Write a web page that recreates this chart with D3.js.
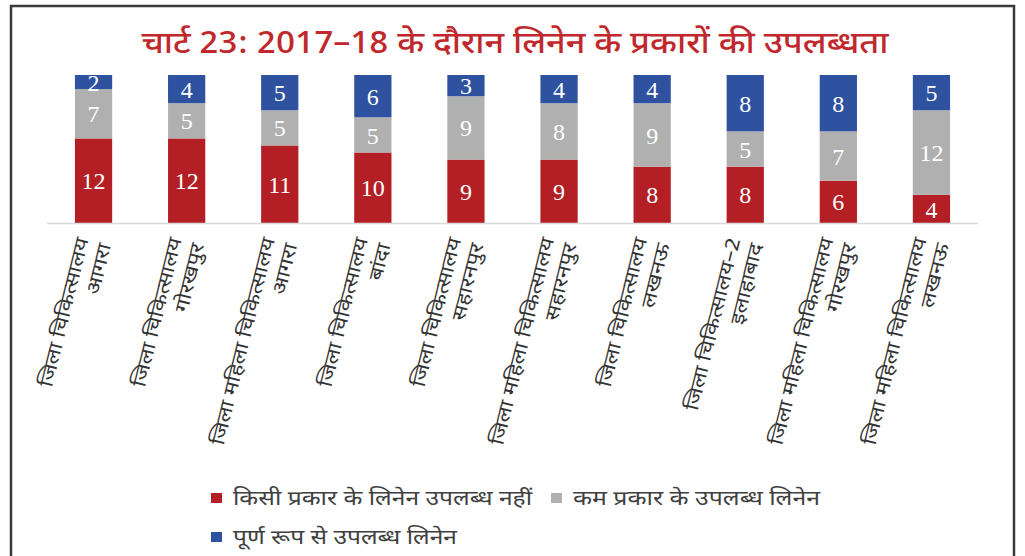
<!DOCTYPE html>
<html>
<head>
<meta charset="utf-8">
<script src="https://cdn.jsdelivr.net/npm/d3@7"></script>
<style>
  body { margin: 0; background: #fff; }
  svg { display: block; }
  .hi { font-family: "Noto Sans Devanagari", "Lohit Devanagari", "Noto Sans", sans-serif; }
</style>
</head>
<body>
<div id="chart"></div>
<script>
// Data
var title = "चार्ट 23: 2017–18 के दौरान लिनेन के प्रकारों की उपलब्धता";
var categories = [
	["जिला चिकित्सालय", "आगरा"],
	["जिला चिकित्सालय", "गोरखपुर"],
	["जिला महिला चिकित्सालय", "आगरा"],
	["जिला चिकित्सालय", "बांदा"],
	["जिला चिकित्सालय", "सहारनपुर"],
	["जिला महिला चिकित्सालय", "सहारनपुर"],
	["जिला चिकित्सालय", "लखनऊ"],
	["जिला चिकित्सालय–2", "इलाहाबाद"],
	["जिला महिला चिकित्सालय", "गोरखपुर"],
	["जिला महिला चिकित्सालय", "लखनऊ"]
];
var notAvailable = [12, 12, 11, 10, 9, 9, 8, 8, 6, 4];
var fewTypes = [7, 5, 5, 5, 9, 8, 9, 5, 7, 12];
var fullyAvailable = [2, 4, 5, 6, 3, 4, 4, 8, 8, 5];
var seriesNames = ["किसी प्रकार के लिनेन उपलब्ध नहीं", "कम प्रकार के उपलब्ध लिनेन", "पूर्ण रूप से उपलब्ध लिनेन"];
var colors = ["#b31f24", "#b0b0b0", "#2f52a0"];

var width = 1025, height = 556;

var svg = d3.select("#chart").append("svg")
	.attr("width", width)
	.attr("height", height);

// Outer frame (bottom edge runs off the picture)
svg.append("rect")
	.attr("x", 11).attr("y", 6)
	.attr("width", 1003).attr("height", 600)
	.attr("fill", "none")
	.attr("stroke", "#3a3a3a")
	.attr("stroke-width", 2.5);

// Title
svg.append("text")
	.attr("class", "hi")
	.attr("x", 515).attr("y", 53)
	.attr("text-anchor", "middle")
	.attr("fill", "#c0282d")
	.attr("font-size", 31)
	.attr("font-weight", 500)
	.attr("textLength", 747)
	.attr("lengthAdjust", "spacingAndGlyphs")
	.text(title);

// Stack the data
var rows = categories.map(function(c, i) {
	return { idx: i, s0: notAvailable[i], s1: fewTypes[i], s2: fullyAvailable[i] };
});
var stack = d3.stack().keys(["s0", "s1", "s2"]);
var stacked = stack(rows);

var x = d3.scaleBand()
	.domain(d3.range(categories.length))
	.range([47, 978])
	.paddingInner(0.6)
	.paddingOuter(0.3);

var y = d3.scaleLinear()
	.domain([0, 21])
	.range([223, 75]);

// Bars
var layer = svg.append("g").selectAll("g")
	.data(stacked)
	.enter().append("g")
		.attr("fill", function(d, i) { return colors[i]; });

layer.selectAll("rect")
	.data(function(d) { return d; })
	.enter().append("rect")
		.attr("x", function(d) { return x(d.data.idx); })
		.attr("y", function(d) { return y(d[1]); })
		.attr("width", x.bandwidth())
		.attr("height", function(d) { return y(d[0]) - y(d[1]); });

// Value labels
layer.selectAll("text")
	.data(function(d) { return d; })
	.enter().append("text")
		.attr("x", function(d) { return x(d.data.idx) + x.bandwidth() / 2; })
		.attr("y", function(d) { return (y(d[0]) + y(d[1])) / 2; })
		.attr("dy", "0.36em")
		.attr("text-anchor", "middle")
		.attr("fill", "#fff")
		.attr("font-family", "'Liberation Serif', 'DejaVu Serif', serif")
		.attr("font-size", 24)
		.text(function(d) { return d[1] - d[0]; });

// Axis line
svg.append("line")
	.attr("x1", 47).attr("x2", 978)
	.attr("y1", 223.5).attr("y2", 223.5)
	.attr("stroke", "#d9d9d9")
	.attr("stroke-width", 1.5);

// Category labels (slanted, two lines, end-aligned at the axis)
var labels = svg.append("g").selectAll("g")
	.data(categories)
	.enter().append("g")
		.attr("transform", function(d, i) {
			return "translate(" + (x(i) + x.bandwidth() / 2 + 1) + ",241) rotate(-76) scale(1.22,1)";
		});

labels.selectAll("text")
	.data(function(d) { return d; })
	.enter().append("text")
		.attr("class", "hi")
		.attr("x", 0)
		.attr("y", function(d, j) { return j === 0 ? -6 : 17; })
		.attr("text-anchor", "end")
		.attr("fill", "#333")
		.attr("font-size", 19)
		.text(function(d) { return d; });

// Legend
var legendPos = [[211, 498], [551, 498], [211, 537]];
var legendLen = [299, 247, 224];
var legend = svg.append("g").selectAll("g")
	.data(seriesNames)
	.enter().append("g")
		.attr("transform", function(d, i) { return "translate(" + legendPos[i][0] + "," + legendPos[i][1] + ")"; });

legend.append("rect")
	.attr("x", 0).attr("y", -5)
	.attr("width", 11).attr("height", 10)
	.attr("fill", function(d, i) { return colors[i]; });

legend.append("text")
	.attr("class", "hi")
	.attr("x", 22)
	.attr("y", 0)
	.attr("dy", "0.35em")
	.attr("fill", "#404040")
	.attr("font-size", 20)
	.attr("textLength", function(d, i) { return legendLen[i]; })
	.attr("lengthAdjust", "spacingAndGlyphs")
	.text(function(d) { return d; });
</script>
</body>
</html>
